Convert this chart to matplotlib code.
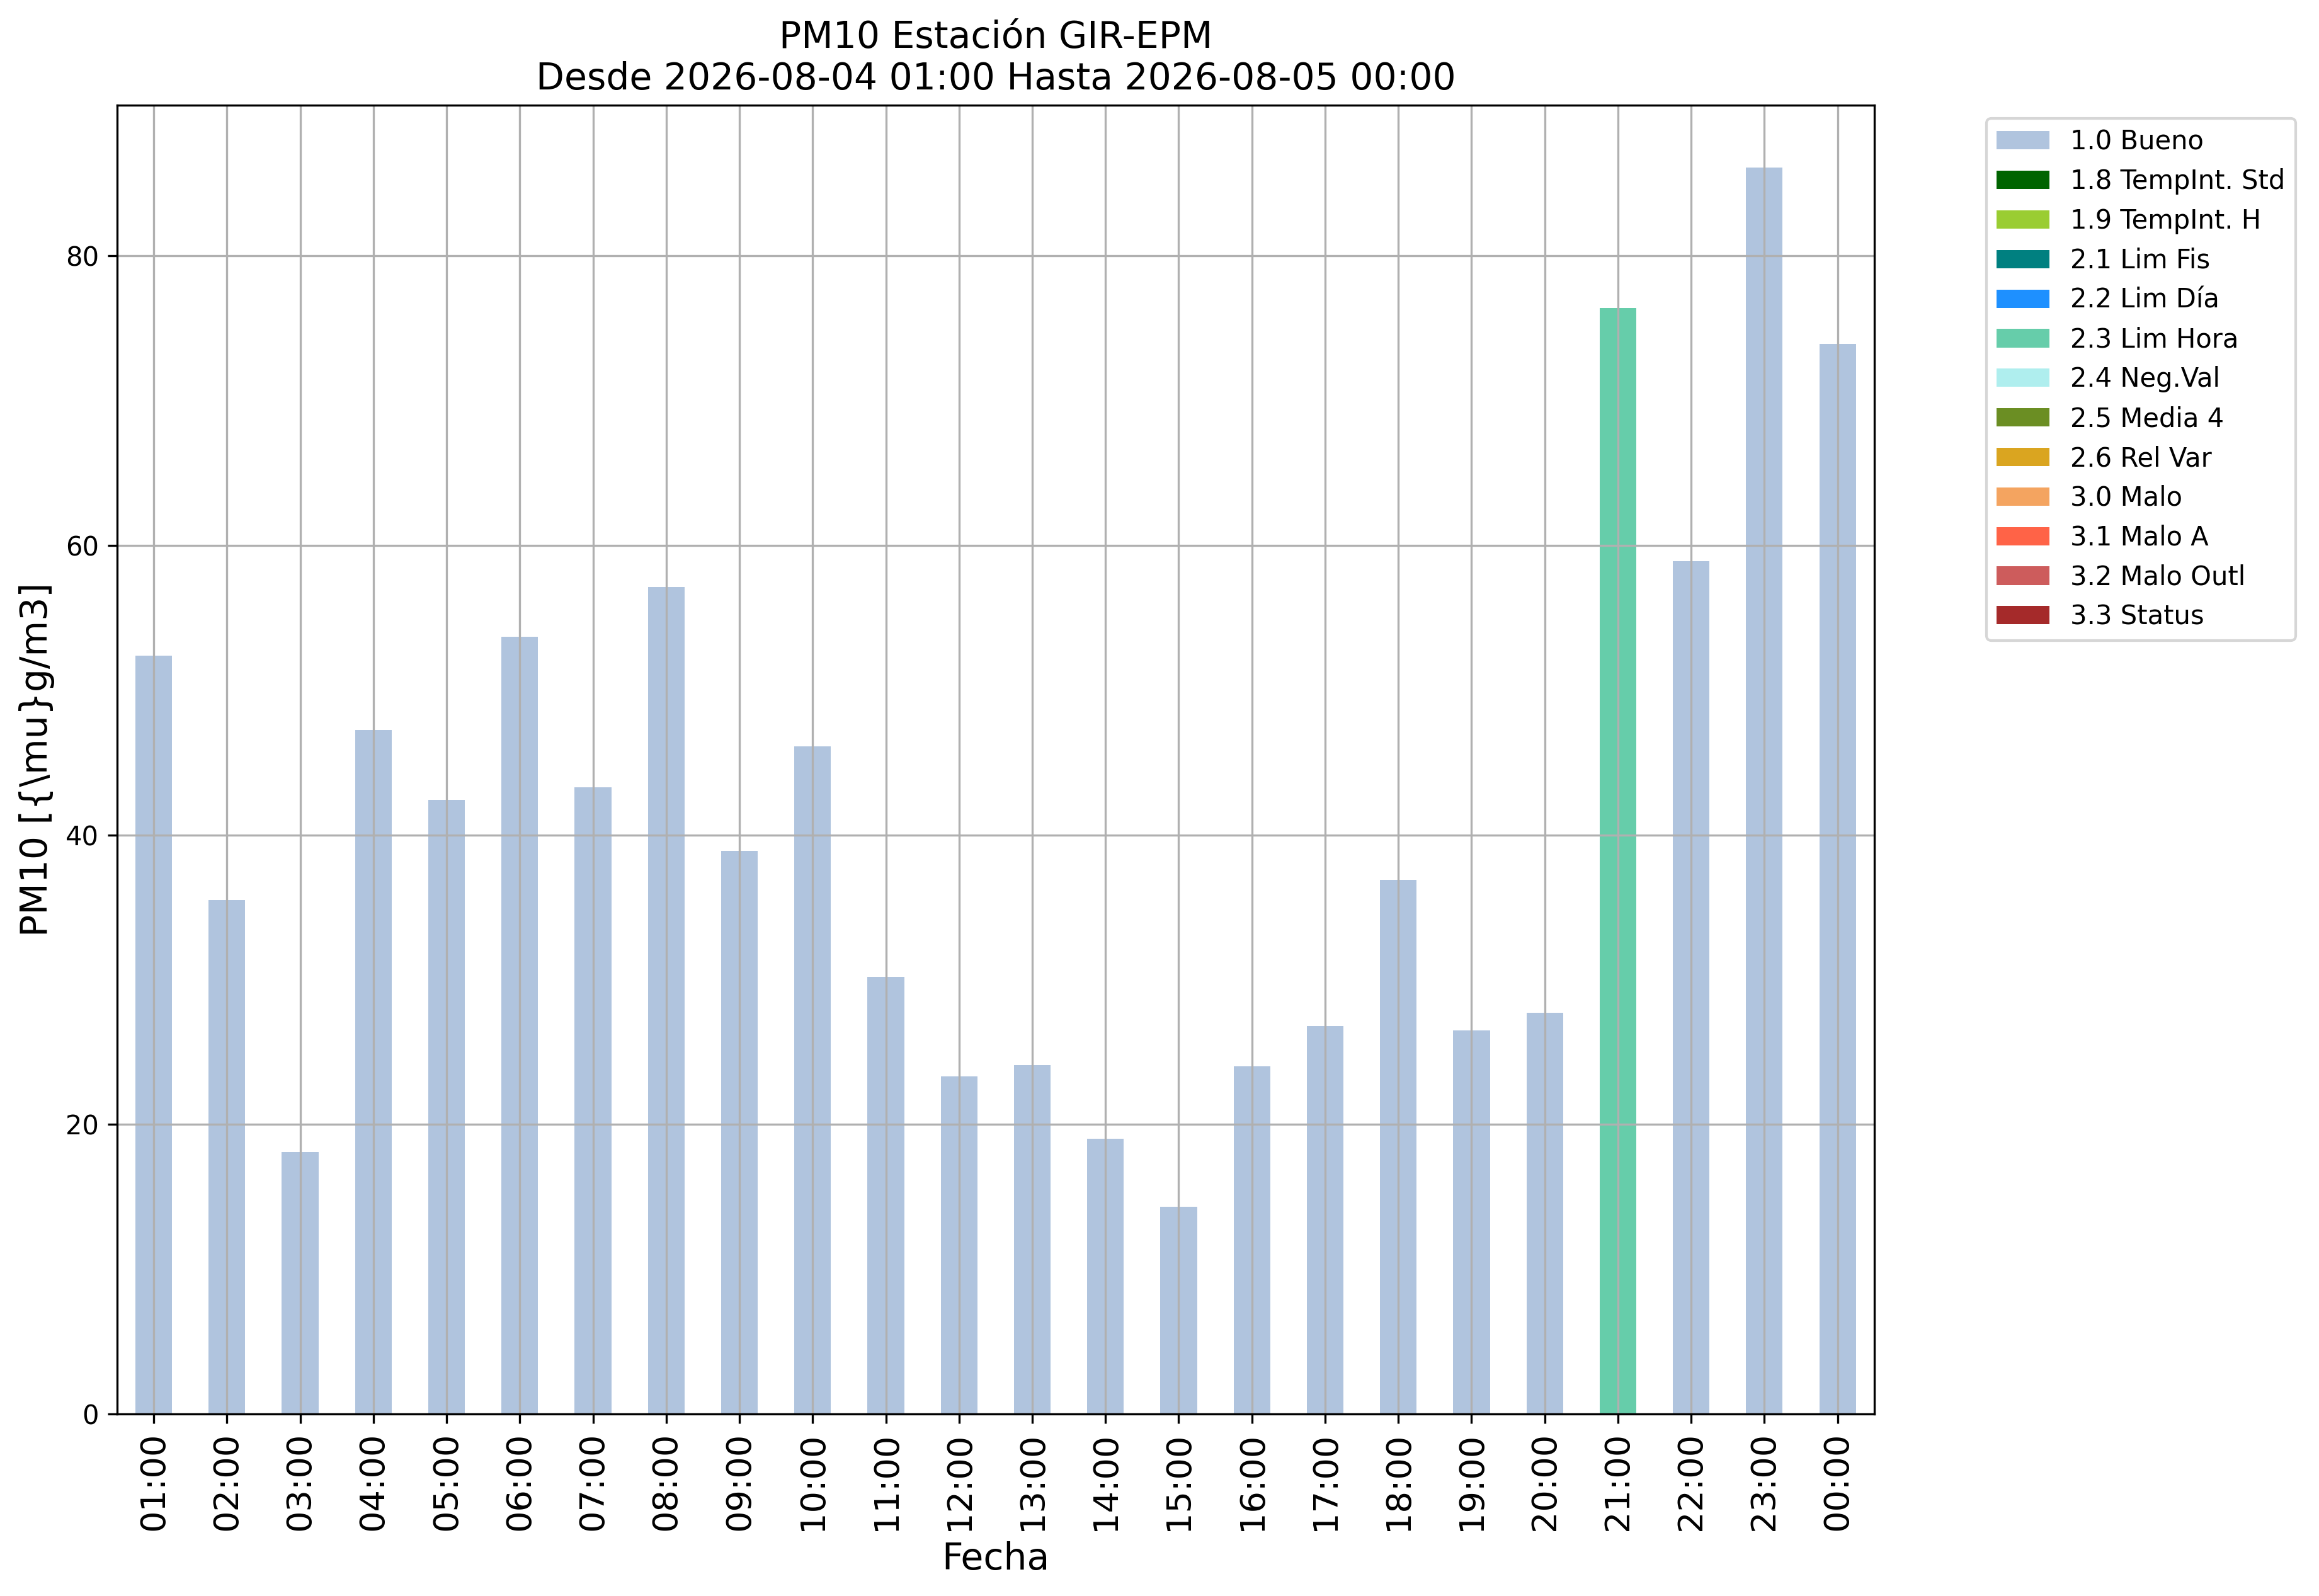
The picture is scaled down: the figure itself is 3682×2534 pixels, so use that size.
import matplotlib
matplotlib.use("Agg")
import matplotlib.pyplot as plt
from matplotlib.ticker import MultipleLocator
import numpy as np

horas = ['01:00', '02:00', '03:00', '04:00', '05:00', '06:00', '07:00', '08:00',
         '09:00', '10:00', '11:00', '12:00', '13:00', '14:00', '15:00', '16:00',
         '17:00', '18:00', '19:00', '20:00', '21:00', '22:00', '23:00', '00:00']
pm10 = [52.4, 35.5, 18.1, 47.25, 42.4, 53.7, 43.3, 57.1, 38.9, 46.1, 30.2, 23.3,
        24.1, 19.0, 14.3, 24.0, 26.8, 36.9, 26.5, 27.7, 76.4, 58.9, 86.1, 73.9]
# flag de validacion de cada hora
flag = ['1.0 Bueno'] * 20 + ['2.3 Lim Hora'] + ['1.0 Bueno'] * 3

flags = ['1.0 Bueno', '1.8 TempInt. Std', '1.9 TempInt. H', '2.1 Lim Fis',
         '2.2 Lim Día', '2.3 Lim Hora', '2.4 Neg.Val', '2.5 Media 4',
         '2.6 Rel Var', '3.0 Malo', '3.1 Malo A', '3.2 Malo Outl', '3.3 Status']
colores = ['lightsteelblue', 'darkgreen', 'yellowgreen', 'teal', 'dodgerblue',
           'mediumaquamarine', 'paleturquoise', 'olivedrab', 'goldenrod',
           'sandybrown', 'tomato', 'indianred', 'brown']

fig = plt.figure(figsize=(3682 / 300, 2534 / 300), dpi=300)
ax = fig.add_axes([0.0505, 0.1141, 0.7577, 0.8200])

x = np.arange(len(horas))
base = np.zeros(len(horas))
for f, c in zip(flags, colores):
    v = np.array([p if fl == f else 0.0 for p, fl in zip(pm10, flag)])
    ax.bar(x, v, width=0.5, bottom=base, color=c, label=f)
    base += v

ax.set_xlim(-0.5, len(horas) - 0.5)
ax.set_ylim(0, base.max() * 1.05)
ax.yaxis.set_major_locator(MultipleLocator(20))
ax.set_xticks(x)
ax.set_xticklabels(horas, rotation=90, fontsize=13)
ax.tick_params(axis='y', labelsize=10)
ax.grid(True)
ax.set_xlabel('Fecha', fontsize=14)
ax.set_ylabel('PM10 [{\\mu}g/m3]', fontsize=14)
ax.set_title('PM10 Estación GIR-EPM\nDesde 2026-08-04 01:00 Hasta 2026-08-05 00:00', fontsize=14)
ax.legend(loc='upper left', bbox_to_anchor=(1.0638, 0.990), borderaxespad=0, fontsize=10)

fig.savefig('out.png', dpi=300)
